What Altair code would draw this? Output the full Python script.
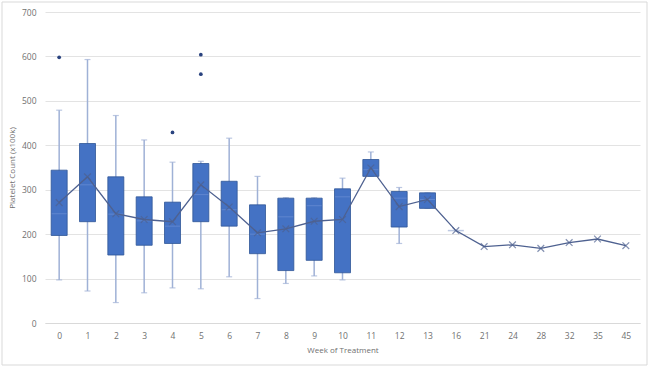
import altair as alt
import pandas as pd

weeks = ["0", "1", "2", "3", "4", "5", "6", "7", "8", "9", "10", "11", "12", "13",
         "16", "21", "24", "28", "32", "35", "45"]
box_weeks = weeks[:14]
whisker_low = [97, 72, 46, 68, 79, 77, 104, 55, 89, 106, 97, 330, 179, 258]
q1 = [197, 228, 153, 175, 179, 228, 218, 156, 118, 141, 113, 330, 216, 258]
median = [246, 311, 245, 230, 218, 289, 255, 200, 239, 264, 284, 345, 281, 278]
q3 = [344, 404, 329, 284, 272, 359, 319, 266, 281, 281, 302, 368, 296, 293]
whisker_high = [479, 593, 467, 412, 362, 364, 416, 330, 282, 282, 326, 385, 305, 293]
mean = [271, 329, 246, 233, 228, 311, 261, 203, 212, 229, 233, 349, 262, 278,
        208, 172, 176, 168, 181, 189, 174]
outlier_weeks = ["0", "4", "5", "5"]
outlier_values = [598, 429, 604, 560]
single_weeks = ["16"]
single_values = [208]

box_df = pd.DataFrame({"week": box_weeks, "lo": whisker_low, "q1": q1,
                       "median": median, "q3": q3, "hi": whisker_high})
mean_df = pd.DataFrame({"week": weeks, "mean": mean})
out_df = pd.DataFrame({"week": outlier_weeks, "value": outlier_values})
single_df = pd.DataFrame({"week": single_weeks, "value": single_values})

BOX = "#4472C4"
WHISK = "#9fb1d6"
LINE = "#4e6190"

xenc = alt.X("week:N", sort=weeks,
             scale=alt.Scale(type="point", domain=weeks, padding=0.5),
             axis=alt.Axis(title="Week of Treatment", labelAngle=0, labelPadding=8,
                           domain=True, domainColor="#d9d9d9", ticks=False,
                           titlePadding=7, grid=False))
yscale = alt.Scale(domain=[0, 700], nice=False)
yaxis = alt.Axis(title="Platelet Count (x100k)", values=[0, 100, 200, 300, 400, 500, 600, 700],
                 domain=False, ticks=False, labelPadding=9, titlePadding=5,
                 grid=True, gridColor="#e3e3e3")

whisk = alt.Chart(box_df).mark_rule(color=WHISK, strokeWidth=1.5).encode(
    x=xenc, y=alt.Y("lo:Q", scale=yscale, axis=yaxis), y2="hi:Q")
cap_hi = alt.Chart(box_df).mark_tick(color=WHISK, size=6, thickness=1.2).encode(
    x=alt.X("week:N", sort=weeks), y="hi:Q")
cap_lo = alt.Chart(box_df).mark_tick(color=WHISK, size=6, thickness=1.2).encode(
    x=alt.X("week:N", sort=weeks), y="lo:Q")
box = alt.Chart(box_df).mark_bar(size=16, color=BOX, stroke="#2f5597", strokeWidth=0.8).encode(
    x=alt.X("week:N", sort=weeks), y="q1:Q", y2="q3:Q")
med = alt.Chart(box_df).mark_tick(color="#6b8fd4", size=15, thickness=1).encode(
    x=alt.X("week:N", sort=weeks), y="median:Q")
single = alt.Chart(single_df).mark_tick(color=WHISK, size=16, thickness=1.5).encode(
    x=alt.X("week:N", sort=weeks), y="value:Q")
line = alt.Chart(mean_df).mark_line(color=LINE, strokeWidth=1.3).encode(
    x=alt.X("week:N", sort=weeks), y="mean:Q")
marks = alt.Chart(mean_df).mark_point(
    shape="M-1,-1L1,1M-1,1L1,-1", size=45, filled=False, color=LINE, strokeWidth=1.2
).encode(x=alt.X("week:N", sort=weeks), y="mean:Q")
outl = alt.Chart(out_df).mark_circle(color="#2a437f", size=14, opacity=1).encode(
    x=alt.X("week:N", sort=weeks), y="value:Q")
frame = alt.Chart(pd.DataFrame({"a": [0]})).mark_rect(
    fillOpacity=0, stroke="#d9d9d9", strokeWidth=1
).encode(x=alt.value(-43), x2=alt.value(602), y=alt.value(-10), y2=alt.value(353))

chart = alt.layer(whisk, cap_hi, cap_lo, box, med, single, line, marks, outl, frame).properties(
    width=595, height=311,
    background="white",
    autosize=alt.AutoSizeParams(type="none"),
    padding={"left": 45, "top": 12, "right": 10, "bottom": 44},
).configure_view(stroke=None).configure_axis(
    labelFont="Open Sans", labelFontSize=8.5, labelColor="#707070",
    titleFont="Open Sans", titleFontSize=8, titleColor="#707070", titleFontWeight="normal"
)

chart.save("out.html", embed_options={"renderer": "svg", "actions": False})
